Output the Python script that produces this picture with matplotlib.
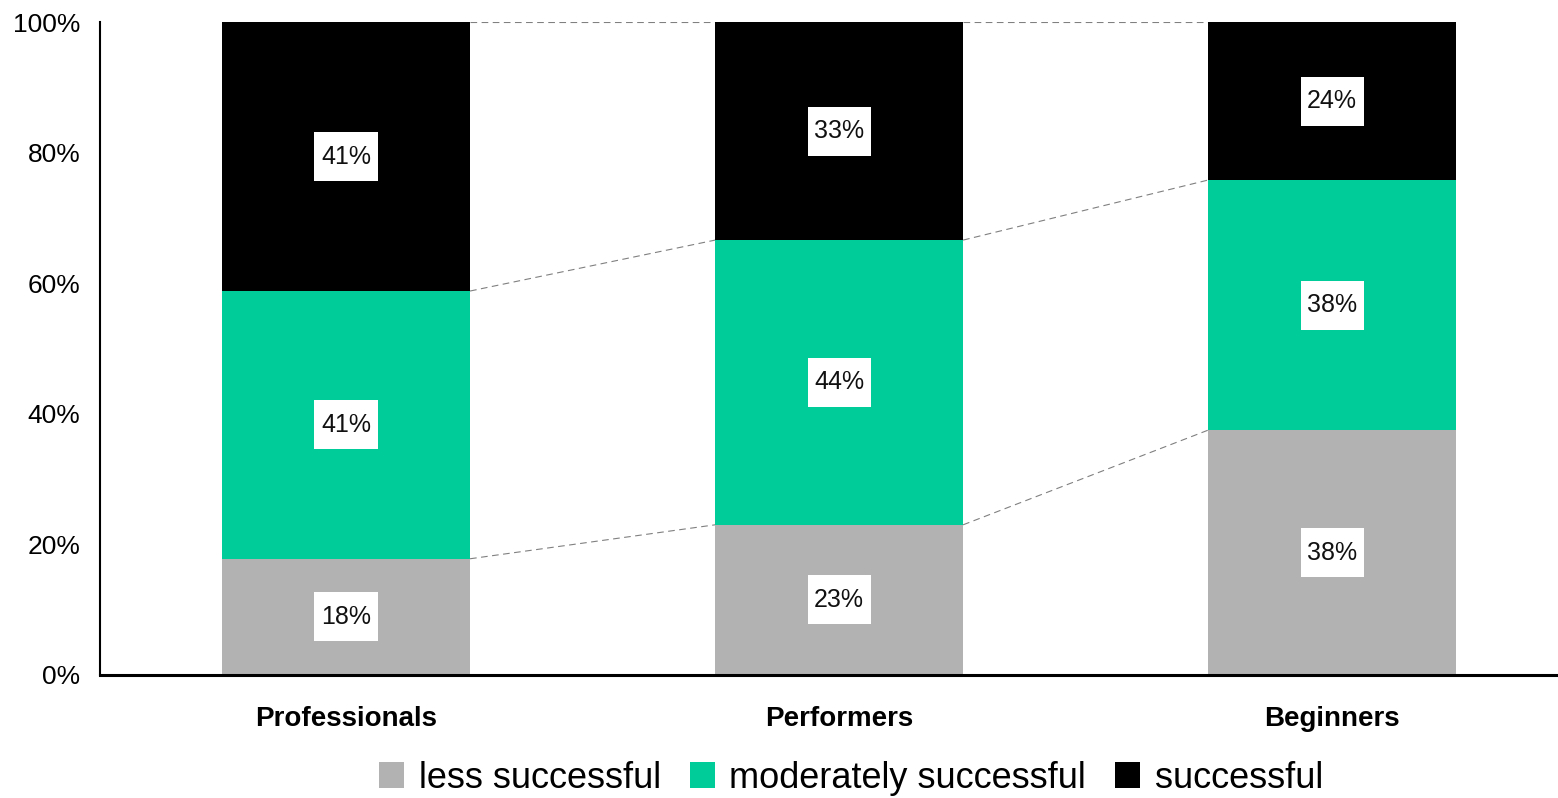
import matplotlib
matplotlib.use("Agg")
import matplotlib.pyplot as plt
from matplotlib.patches import Rectangle
import numpy as np

plt.rcParams['font.family'] = ['Liberation Sans', 'DejaVu Sans']

categories = ["Professionals", "Performers", "Beginners"]
less_successful = [17.8, 23.0, 37.5]
moderately_successful = [41.0, 43.6, 38.3]
successful = [41.2, 33.4, 24.2]
series_names = ["less successful", "moderately successful", "successful"]
colors = ["#b2b2b2", "#00cc99", "#000000"]

fig = plt.figure(figsize=(15.58, 7.98), dpi=100)
ax = fig.add_axes([100/1558, 1-675/798, 1-100/1558, (675-22)/798])

x = np.arange(len(categories))
width = 0.503
series = [less_successful, moderately_successful, successful]
bottom = np.zeros(len(categories))
bounds = []
for vals, name, col in zip(series, series_names, colors):
    vals = np.array(vals)
    ax.bar(x, vals, width, bottom=bottom, color=col, label=name, zorder=2)
    for xi, b, v in zip(x, bottom, vals):
        cy = b + v / 2
        bw, bh = 0.128, 7.5
        ax.add_patch(Rectangle((xi - bw/2, cy - bh/2), bw, bh, facecolor="white",
                               edgecolor="none", zorder=3))
        ax.text(xi, cy, f"{round(v):.0f}%", ha="center", va="center",
                fontsize=18, color="#111111", zorder=4)
    bottom = bottom + vals
    bounds.append(bottom.copy())

# connector lines
for bnd in bounds:
    for i in range(len(categories) - 1):
        ax.plot([x[i] + width/2, x[i+1] - width/2], [bnd[i], bnd[i+1]],
                color="#808080", lw=0.8, ls=(0, (6, 4)), zorder=1)

ax.set_xlim(-0.499, 2.458)
ax.set_ylim(0, 100)
ax.set_yticks([0, 20, 40, 60, 80, 100])
ax.set_yticklabels([f"{t}%" for t in [0, 20, 40, 60, 80, 100]])
ax.set_xticks(x)
ax.set_xticklabels(categories, fontweight="bold", fontsize=20)
ax.tick_params(axis="y", length=0, pad=14, labelsize=19)
ax.tick_params(axis="x", length=0, pad=22)
for s in ["top", "right"]:
    ax.spines[s].set_visible(False)
ax.spines["left"].set_linewidth(1.5)
ax.spines["bottom"].set_linewidth(2.2)
ax.spines["left"].set_zorder(5)
ax.spines["bottom"].set_zorder(5)

handles, labels = ax.get_legend_handles_labels()
fig.legend(handles, labels, loc="center", bbox_to_anchor=(851/1558, 1-778/798),
           ncol=3, frameon=False, fontsize=26, handlelength=0.7, handleheight=0.7,
           handletextpad=0.4, columnspacing=0.8, borderaxespad=0)

fig.savefig("out.png", dpi=100)
